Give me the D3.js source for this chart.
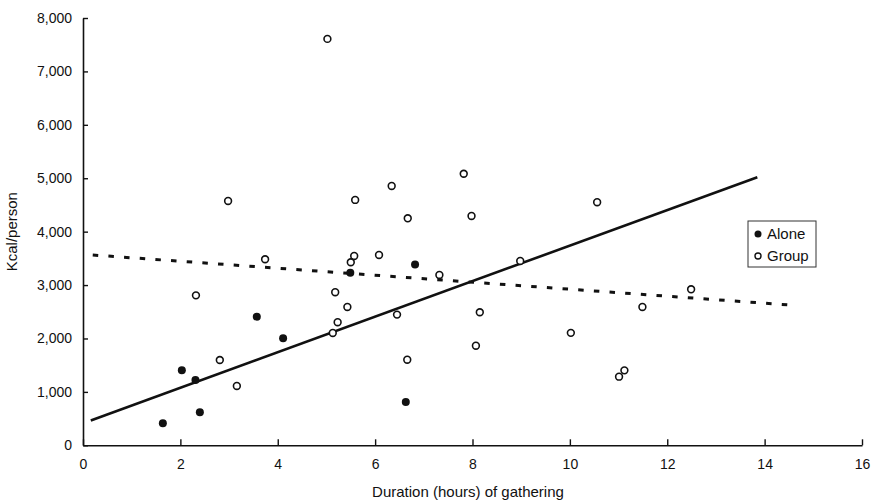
<!DOCTYPE html>
<html>
<head>
<meta charset="utf-8">
<script src="https://cdn.jsdelivr.net/npm/d3@7"></script>
<style>
  body { margin: 0; background: #fff; }
  text { font-family: "Liberation Sans", Arial, sans-serif; fill: #111; }
</style>
</head>
<body>
<div id="chart"></div>
<script>
// hours of gathering vs kcal per person
var aloneX = [1.64, 2.03, 2.31, 2.40, 3.57, 4.11, 5.49, 6.63, 6.82];
var aloneY = [412, 1404, 1223, 618, 2409, 2004, 3232, 811, 3384];

var groupX = [2.98, 5.59, 6.34, 6.67, 3.74, 5.57, 5.50, 6.08, 7.32, 2.32,
              5.18, 5.43, 5.23, 5.13, 6.45, 2.81, 3.16, 6.66, 7.82, 7.98,
              10.56, 8.98, 12.49, 8.15, 11.49, 8.07, 10.02, 11.01, 11.12, 5.02];
var groupY = [4575, 4594, 4856, 4250, 3483, 3545, 3427, 3564, 3189, 2807,
              2866, 2590, 2305, 2103, 2447, 1597, 1111, 1603, 5084, 4294,
              4551, 3451, 2921, 2491, 2590, 1865, 2105, 1285, 1403, 7609];

// fitted lines (start, end)
var aloneFitX = [0.16, 13.85];
var aloneFitY = [466, 5019];
var groupFitX = [0.2, 14.48];
var groupFitY = [3563, 2630];

var xTicks = [0, 2, 4, 6, 8, 10, 12, 14, 16];
var yTicks = [0, 1000, 2000, 3000, 4000, 5000, 6000, 7000, 8000];
var legendLabels = ["Alone", "Group"];

var W = 871, H = 503;
var svg = d3.select("#chart").append("svg")
  .attr("width", W).attr("height", H);

var x = d3.scaleLinear().domain([0, 16]).range([83, 862]);
var y = d3.scaleLinear().domain([0, 8000]).range([445.3, 18]);

var fmt = d3.format(",");

// axes, ticks pointing inward
var xAxis = svg.append("g")
  .attr("transform", "translate(0," + y(0) + ")")
  .call(d3.axisBottom(x).tickValues(xTicks).tickSizeInner(-6).tickSizeOuter(0).tickPadding(14));
var yAxis = svg.append("g")
  .attr("transform", "translate(" + x(0) + ",0)")
  .call(d3.axisLeft(y).tickValues(yTicks).tickFormat(fmt).tickSizeInner(-5).tickSizeOuter(0).tickPadding(11));

[xAxis, yAxis].forEach(function(g){
  g.select(".domain").attr("stroke", "#111").attr("stroke-width", 1.6);
  g.selectAll(".tick line").attr("stroke", "#111").attr("stroke-width", 1.4);
  g.selectAll(".tick text").attr("font-size", 14).attr("fill", "#111")
    .style("font-family", "'Liberation Sans', Arial, sans-serif");
});

// trend lines
svg.append("line")
  .attr("x1", x(aloneFitX[0])).attr("y1", y(aloneFitY[0]))
  .attr("x2", x(aloneFitX[1])).attr("y2", y(aloneFitY[1]))
  .attr("stroke", "#111").attr("stroke-width", 2.6);

svg.append("line")
  .attr("x1", x(groupFitX[0])).attr("y1", y(groupFitY[0]))
  .attr("x2", x(groupFitX[1])).attr("y2", y(groupFitY[1]))
  .attr("stroke", "#111").attr("stroke-width", 3)
  .attr("stroke-dasharray", "5.5,10.2");

// points
svg.selectAll(".group").data(d3.range(groupX.length)).enter()
  .append("circle")
  .attr("class", "group")
  .attr("cx", function(i){ return x(groupX[i]); })
  .attr("cy", function(i){ return y(groupY[i]); })
  .attr("r", 3.4)
  .attr("fill", "#fff")
  .attr("stroke", "#111")
  .attr("stroke-width", 1.6);

svg.selectAll(".alone").data(d3.range(aloneX.length)).enter()
  .append("circle")
  .attr("class", "alone")
  .attr("cx", function(i){ return x(aloneX[i]); })
  .attr("cy", function(i){ return y(aloneY[i]); })
  .attr("r", 4)
  .attr("fill", "#111");

// legend
var lg = svg.append("g").attr("transform", "translate(748,221)");
lg.append("rect")
  .attr("width", 68).attr("height", 46)
  .attr("fill", "#fff").attr("stroke", "#333").attr("stroke-width", 1);
lg.append("circle").attr("cx", 10).attr("cy", 13).attr("r", 3.5).attr("fill", "#111");
lg.append("circle").attr("cx", 10).attr("cy", 35).attr("r", 3).attr("fill", "#fff")
  .attr("stroke", "#111").attr("stroke-width", 1.4);
lg.selectAll(".lt").data(legendLabels).enter()
  .append("text")
  .attr("x", 19)
  .attr("y", function(d, i){ return 18 + i * 22; })
  .attr("font-size", 15)
  .text(function(d){ return d; });

// axis titles
svg.append("text")
  .attr("x", 468).attr("y", 497)
  .attr("text-anchor", "middle")
  .attr("font-size", 15)
  .text("Duration (hours) of gathering");

svg.append("text")
  .attr("transform", "translate(17," + ((y(0) + y(8000)) / 2) + ") rotate(-90)")
  .attr("text-anchor", "middle")
  .attr("font-size", 15)
  .text("Kcal/person");
</script>
</body>
</html>
